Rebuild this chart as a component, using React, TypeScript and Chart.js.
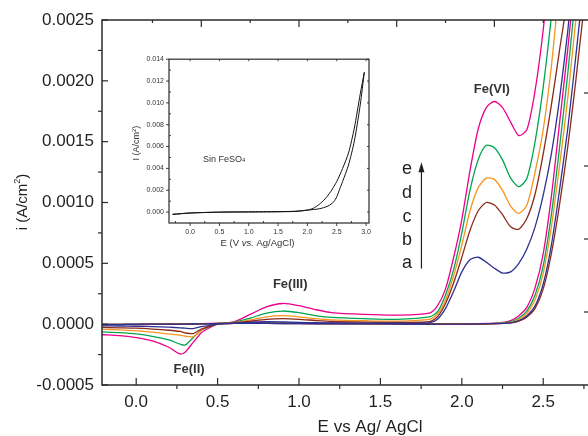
import React, { useEffect, useRef } from 'react';
import { Chart, registerables } from 'chart.js';
Chart.register(...registerables);

const FONT = "'Liberation Sans', Arial, Helvetica, sans-serif";
const INK = '#231f20';
const AXIS = '#2b2b2b';

// ---------- main chart axes ----------
const X_MIN = -0.21;
const X_MAX = 2.775;
const Y_MIN = -0.0005;
const Y_MAX = 0.0025;
const X_TICKS = [0, 0.5, 1, 1.5, 2, 2.5];
const X_MINOR = [0.25, 0.75, 1.25, 1.75, 2.25, 2.75];
const Y_TICKS = [-0.0005, 0, 0.0005, 0.001, 0.0015, 0.002, 0.0025];
const Y_MINOR = [-0.00025, 0.00025, 0.00075, 0.00125, 0.00175, 0.00225];
const TOP_MAJOR = [0.4, 1.0, 1.6, 2.2];
const TOP_MINOR = [0.1, 0.7, 1.3, 1.9, 2.5];
const RIGHT_MINOR = [0.0001, 0.0007, 0.0013, 0.0019];

// ---------- main chart data: forward scan ----------
const E_FWD = [-0.21, -0.1, 0.0, 0.1, 0.2, 0.3, 0.4, 0.5, 0.6, 0.7, 0.8, 0.9, 1.0, 1.1, 1.2, 1.4, 1.6, 1.8,
  1.85, 1.9, 1.95, 2.0, 2.05, 2.1, 2.15, 2.2, 2.25, 2.3, 2.35, 2.4, 2.45, 2.5, 2.55, 2.6, 2.65, 2.7];

const I_FWD_E = [-0.000005, -0.000004, -0.000003, -0.000002, 0.0, 0.000002, 0.000004, 0.000008, 0.000018, 0.00008,
  0.000142, 0.00017, 0.000152, 0.00012, 0.000095, 0.00008, 0.000074, 0.00009, 0.00015, 0.00029, 0.00055, 0.00086,
  0.00126, 0.0016, 0.00178, 0.00183, 0.00178, 0.00166, 0.00155, 0.0016, 0.00192, 0.00242, 0.0031, 0.0038, 0.0045, 0.0052];
const I_FWD_D = [-0.000004, -0.000003, -0.000002, -0.000001, 0.0, 0.000002, 0.000004, 0.000007, 0.000015, 0.00005,
  0.00009, 0.000108, 0.000095, 0.00007, 0.000055, 0.000045, 0.00004, 0.00006, 0.0001, 0.00024, 0.00045, 0.00075,
  0.0011, 0.00135, 0.00147, 0.00145, 0.00135, 0.0012, 0.00113, 0.0012, 0.0015, 0.00195, 0.00253, 0.0032, 0.0039, 0.0046];
const I_FWD_C = [-0.000003, -0.000002, -0.000002, -0.000001, 0.0, 0.000002, 0.000003, 0.000006, 0.000012, 0.000035,
  0.00006, 0.00007, 0.00006, 0.000045, 0.000035, 0.000028, 0.000025, 0.00004, 0.00008, 0.0002, 0.0004, 0.00065,
  0.00093, 0.00112, 0.0012, 0.00119, 0.0011, 0.00097, 0.00091, 0.00098, 0.00125, 0.0016, 0.00212, 0.0028, 0.0035, 0.0042];
const I_FWD_B = [-0.000002, -0.000002, -0.000001, 0.0, 0.0, 0.000001, 0.000003, 0.000005, 0.00001, 0.000025,
  0.00004, 0.000045, 0.00004, 0.00003, 0.000022, 0.000017, 0.000015, 0.00002, 0.00006, 0.00017, 0.00034, 0.00055,
  0.00077, 0.00093, 0.001, 0.00098, 0.0009, 0.0008, 0.00078, 0.00087, 0.00107, 0.0014, 0.0018, 0.00225, 0.0027, 0.0033];
const I_FWD_A = [-0.000001, -0.000001, 0.0, 0.0, 0.0, 0.000001, 0.000002, 0.000004, 0.000008, 0.000015,
  0.00002, 0.000018, 0.000015, 0.000012, 0.00001, 0.000008, 0.000008, 0.00001, 0.00004, 0.00013, 0.00027, 0.00043,
  0.00053, 0.00055, 0.00051, 0.00046, 0.00042, 0.00043, 0.0005, 0.00062, 0.0008, 0.00106, 0.0014, 0.00185, 0.0024, 0.003];

// ---------- main chart data: reverse scan ----------
const E_REV = [2.8, 2.75, 2.7, 2.65, 2.6, 2.55, 2.5, 2.45, 2.4, 2.35, 2.3, 2.2, 2.0, 1.8, 1.5, 1.2, 1.0, 0.8, 0.7,
  0.6, 0.5, 0.45, 0.4, 0.35, 0.3, 0.27, 0.2, 0.1, 0.0, -0.1, -0.21];

const I_REV_E = [0.0036, 0.0033, 0.0029, 0.00225, 0.00165, 0.00105, 0.00058, 0.0003, 0.00014, 0.00007, 0.00003,
  0.000008, 0.000003, 0.000003, 0.000005, 0.000008, 0.00001, 0.000015, 0.000018, 0.000015, 0.0, -0.00003, -0.00007,
  -0.00015, -0.00023, -0.000245, -0.00019, -0.000138, -0.00011, -0.000095, -0.000085];
const I_REV_D = [0.0034, 0.0031, 0.0027, 0.00205, 0.00145, 0.0009, 0.00048, 0.00024, 0.00011, 0.00005, 0.00002,
  0.000006, 0.000002, 0.000002, 0.000004, 0.000006, 0.000008, 0.000012, 0.000015, 0.000012, 0.000002, -0.00002, -0.00005,
  -0.00011, -0.000172, -0.000165, -0.00013, -0.0001, -0.00008, -0.00007, -0.000063];
const I_REV_C = [0.0033, 0.0031, 0.0025, 0.00185, 0.0013, 0.0008, 0.00042, 0.0002, 0.00009, 0.00004, 0.000015,
  0.000005, 0.000002, 0.000002, 0.000003, 0.000005, 0.000007, 0.00001, 0.000012, 0.00001, 0.000003, -0.00001, -0.00005,
  -0.000102, -0.000098, -0.00009, -0.00008, -0.000065, -0.000055, -0.000047, -0.000041];
const I_REV_B = [0.0031, 0.0026, 0.002, 0.00145, 0.00098, 0.00058, 0.00029, 0.00013, 0.00006, 0.000025, 0.00001,
  0.000003, 0.000001, 0.000001, 0.000002, 0.000003, 0.000004, 0.000006, 0.000008, 0.000006, 0.000001, -0.00002, -0.00004,
  -0.000077, -0.000072, -0.00006, -0.00005, -0.00004, -0.000033, -0.00003, -0.000027];
const I_REV_A = [0.0032, 0.0028, 0.0022, 0.0016, 0.0011, 0.00065, 0.00033, 0.00015, 0.00007, 0.00003, 0.00001,
  0.000004, 0.000001, 0.000001, 0.000002, 0.000003, 0.000004, 0.000006, 0.000007, 0.000006, 0.000001, -0.00001, -0.00002,
  -0.000036, -0.000033, -0.00003, -0.000025, -0.00002, -0.000017, -0.000015, -0.000014];

const SERIES_NAMES = ['a', 'b', 'c', 'd', 'e'];
const SERIES_COLORS = ['#2e3192', '#8b2a1c', '#f7941d', '#00a651', '#ec008c'];
const SERIES_FWD = [I_FWD_A, I_FWD_B, I_FWD_C, I_FWD_D, I_FWD_E];
const SERIES_REV = [I_REV_A, I_REV_B, I_REV_C, I_REV_D, I_REV_E];

// legend letters (label, E, i baseline)
const LEGEND_E = 1.664;
const LEGEND_I = [0.000459, 0.000648, 0.000836, 0.001041, 0.001238];
const ARROW_E = 1.752;
const ARROW_I_FROM = 0.000457;
const ARROW_I_TO = 0.00133;

// peak annotations
const PEAK_LABELS = ['Fe(VI)', 'Fe(III)', 'Fe(II)'];
const PEAK_E = [2.184, 0.946, 0.325];
const PEAK_I = [0.001926, 0.000328, -0.000369];

// ---------- inset ----------
const IN_X_MIN = -0.36;
const IN_X_MAX = 3.05;
const IN_Y_MIN = -0.001;
const IN_Y_MAX = 0.014;
const IN_X_TICKS = [0, 0.5, 1, 1.5, 2, 2.5, 3];
const IN_X_MINOR = [-0.25, 0.25, 0.75, 1.25, 1.75, 2.25, 2.75];
const IN_Y_TICKS = [0, 0.002, 0.004, 0.006, 0.008, 0.01, 0.012, 0.014];
const IN_Y_MINOR = [0.001, 0.003, 0.005, 0.007, 0.009, 0.011, 0.013];
const IN_E_FWD = [-0.3, 0.0, 0.5, 1.0, 1.5, 1.8, 2.0, 2.2, 2.35, 2.45, 2.5, 2.55, 2.6, 2.7, 2.8, 2.9, 2.97];
const IN_I_FWD = [-0.0002, -0.00008, 0.0, 0.00002, 0.00004, 0.00008, 0.00018, 0.0003, 0.00055, 0.00095, 0.0014,
  0.0021, 0.0028, 0.0043, 0.0065, 0.0098, 0.0128];
const IN_E_REV = [2.97, 2.9, 2.8, 2.7, 2.6, 2.5, 2.4, 2.3, 2.2, 2.1, 2.0, 1.8, 1.5, 1.0, 0.5, 0.0, -0.3];
const IN_I_REV = [0.0128, 0.0108, 0.0077, 0.0054, 0.004, 0.0028, 0.0019, 0.0012, 0.0007, 0.00035, 0.00018,
  0.00006, 0.00003, 0.00001, -0.00001, -0.00009, -0.00022];
const IN_NOTE_E = 0.22;
const IN_NOTE_I = 0.00485;

function seg(ctx: CanvasRenderingContext2D, x1: number, y1: number, x2: number, y2: number) {
  ctx.beginPath();
  ctx.moveTo(x1, y1);
  ctx.lineTo(x2, y2);
  ctx.stroke();
}

function drawScriptText(ctx: CanvasRenderingContext2D, x: number, y: number, pre: string, small: string,
  post: string, size: number, shift: number, align: 'center' | 'left') {
  const big = `${size}px ${FONT}`;
  const sm = `${Math.round(size * 0.62)}px ${FONT}`;
  ctx.font = big;
  const w1 = ctx.measureText(pre).width;
  const w3 = ctx.measureText(post).width;
  ctx.font = sm;
  const w2 = ctx.measureText(small).width;
  const total = w1 + w2 + w3;
  const sx = align === 'center' ? x - total / 2 : x;
  ctx.textAlign = 'left';
  ctx.font = big;
  ctx.fillText(pre, sx, y);
  ctx.font = sm;
  ctx.fillText(small, sx + w1, y + shift);
  ctx.font = big;
  ctx.fillText(post, sx + w1 + w2, y);
}

const mainDecor = {
  id: 'mainDecor',
  afterDraw(chart: any) {
    const { ctx, chartArea, scales } = chart;
    const { left, right, top, bottom } = chartArea;
    const X = (v: number) => scales.x.getPixelForValue(v);
    const Y = (v: number) => scales.y.getPixelForValue(v);
    ctx.save();
    ctx.strokeStyle = AXIS;
    ctx.lineWidth = 1.5;
    ctx.beginPath();
    ctx.moveTo(right, top);
    ctx.lineTo(left, top);
    ctx.lineTo(left, bottom);
    ctx.lineTo(right, bottom);
    ctx.stroke();
    ctx.lineWidth = 1.2;
    X_TICKS.forEach(v => seg(ctx, X(v), bottom, X(v), bottom - 7));
    X_MINOR.forEach(v => seg(ctx, X(v), bottom, X(v), bottom + 4));
    Y_TICKS.forEach(v => seg(ctx, left, Y(v), left + 6, Y(v)));
    Y_MINOR.forEach(v => seg(ctx, left, Y(v), left - 4, Y(v)));
    TOP_MAJOR.forEach(v => seg(ctx, X(v), top, X(v), top + 7));
    TOP_MINOR.forEach(v => seg(ctx, X(v), top, X(v), top + 3));
    RIGHT_MINOR.forEach(v => seg(ctx, right - 4, Y(v), right, Y(v)));

    // axis titles
    ctx.fillStyle = INK;
    ctx.font = `17px ${FONT}`;
    ctx.textAlign = 'center';
    ctx.textBaseline = 'alphabetic';
    ctx.fillText('E vs Ag/ AgCl', 370, 432);

    ctx.save();
    ctx.translate(23, (top + bottom) / 2 - 0.5);
    ctx.rotate(-Math.PI / 2);
    ctx.textBaseline = 'middle';
    drawScriptText(ctx, 0, 0, 'i (A/cm', '2', ')', 15, -5, 'center');
    ctx.restore();

    // peak labels
    ctx.fillStyle = '#333';
    ctx.font = `bold 13px ${FONT}`;
    ctx.textAlign = 'center';
    ctx.textBaseline = 'middle';
    PEAK_LABELS.forEach((t, i) => ctx.fillText(t, X(PEAK_E[i]), Y(PEAK_I[i])));

    // legend letters + arrow
    ctx.fillStyle = INK;
    ctx.font = `18px ${FONT}`;
    ctx.textBaseline = 'alphabetic';
    SERIES_NAMES.forEach((n, i) => ctx.fillText(n, X(LEGEND_E), Y(LEGEND_I[i])));
    const ax = X(ARROW_E);
    const ay0 = Y(ARROW_I_FROM);
    const ay1 = Y(ARROW_I_TO);
    ctx.strokeStyle = INK;
    ctx.lineWidth = 1.2;
    seg(ctx, ax, ay0, ax, ay1 + 6);
    ctx.beginPath();
    ctx.moveTo(ax, ay1);
    ctx.lineTo(ax - 3, ay1 + 10);
    ctx.lineTo(ax + 3, ay1 + 10);
    ctx.closePath();
    ctx.fill();
    ctx.restore();
  },
};

const insetDecor = {
  id: 'insetDecor',
  afterDraw(chart: any) {
    const { ctx, chartArea, scales } = chart;
    const { left, right, top, bottom } = chartArea;
    const X = (v: number) => scales.x.getPixelForValue(v);
    const Y = (v: number) => scales.y.getPixelForValue(v);
    ctx.save();
    ctx.strokeStyle = AXIS;
    ctx.lineWidth = 1.2;
    ctx.strokeRect(left, top, right - left, bottom - top);
    ctx.lineWidth = 0.9;
    IN_X_TICKS.forEach(v => { seg(ctx, X(v), bottom, X(v), bottom + 3); seg(ctx, X(v), top, X(v), top + 2); });
    IN_X_MINOR.forEach(v => seg(ctx, X(v), bottom, X(v), bottom - 2));
    IN_Y_TICKS.forEach(v => { seg(ctx, left, Y(v), left - 3, Y(v)); seg(ctx, right, Y(v), right - 2, Y(v)); });
    IN_Y_MINOR.forEach(v => seg(ctx, left, Y(v), left + 2, Y(v)));

    ctx.fillStyle = '#333';
    ctx.textBaseline = 'middle';
    // x title with italic "vs."
    const size = 9.5;
    ctx.font = `${size}px ${FONT}`;
    const p1 = 'E (V ';
    const p3 = ' Ag/AgCl)';
    const w1 = ctx.measureText(p1).width;
    const w3 = ctx.measureText(p3).width;
    ctx.font = `italic ${size}px ${FONT}`;
    const w2 = ctx.measureText('vs.').width;
    const sx = 129.5 - (w1 + w2 + w3) / 2;
    ctx.textAlign = 'left';
    ctx.font = `${size}px ${FONT}`;
    ctx.fillText(p1, sx, 193);
    ctx.font = `italic ${size}px ${FONT}`;
    ctx.fillText('vs.', sx + w1, 193);
    ctx.font = `${size}px ${FONT}`;
    ctx.fillText(p3, sx + w1 + w2, 193);

    ctx.save();
    ctx.translate(9, (top + bottom) / 2 + 2);
    ctx.rotate(-Math.PI / 2);
    drawScriptText(ctx, 0, 0, 'I (A/cm', '2', ')', 9, -3, 'center');
    ctx.restore();

    drawScriptText(ctx, X(IN_NOTE_E), Y(IN_NOTE_I), 'Sin FeSO', '4', '', 9, 1, 'left');
    ctx.restore();
  },
};

export default function App() {
  const mainRef = useRef<HTMLCanvasElement>(null);
  const insetRef = useRef<HTMLCanvasElement>(null);

  useEffect(() => {
    const datasets = SERIES_NAMES.map((name, k) => ({
      label: name,
      data: E_FWD.map((x, i) => ({ x, y: SERIES_FWD[k][i] }))
        .concat(E_REV.map((x, i) => ({ x, y: SERIES_REV[k][i] }))),
      borderColor: SERIES_COLORS[k],
      backgroundColor: SERIES_COLORS[k],
      borderWidth: 1.3,
      showLine: true,
      pointRadius: 0,
      tension: 0.25,
      fill: false,
    }));

    const main = new Chart(mainRef.current as HTMLCanvasElement, {
      type: 'scatter',
      data: { datasets },
      options: {
        responsive: false,
        animation: false,
        events: [],
        layout: { padding: { top: 20, right: 0, left: 0, bottom: 0 } },
        plugins: { legend: { display: false }, tooltip: { enabled: false } },
        scales: {
          x: {
            type: 'linear',
            min: X_MIN,
            max: X_MAX,
            grid: { display: false, drawTicks: false },
            border: { display: false },
            ticks: {
              color: INK,
              font: { family: FONT, size: 17 },
              padding: 7,
              maxRotation: 0,
              autoSkip: false,
              callback: (v: any) => Number(v).toFixed(1),
            },
            afterBuildTicks: (s: any) => { s.ticks = X_TICKS.map(value => ({ value })); },
            afterFit: (s: any) => { s.height = 51; },
          },
          y: {
            type: 'linear',
            min: Y_MIN,
            max: Y_MAX,
            grid: { display: false, drawTicks: false },
            border: { display: false },
            ticks: {
              color: INK,
              font: { family: FONT, size: 17 },
              padding: 8,
              autoSkip: false,
              callback: (v: any) => Number(v).toFixed(4),
            },
            afterBuildTicks: (s: any) => { s.ticks = Y_TICKS.map(value => ({ value })); },
            afterFit: (s: any) => { s.width = 102; },
          },
        },
      } as any,
      plugins: [mainDecor],
    });

    const inset = new Chart(insetRef.current as HTMLCanvasElement, {
      type: 'scatter',
      data: {
        datasets: [{
          label: 'Sin FeSO4',
          data: IN_E_FWD.map((x, i) => ({ x, y: IN_I_FWD[i] }))
            .concat(IN_E_REV.map((x, i) => ({ x, y: IN_I_REV[i] }))),
          borderColor: '#111',
          borderWidth: 1,
          showLine: true,
          pointRadius: 0,
          tension: 0.25,
          fill: false,
        }],
      },
      options: {
        responsive: false,
        animation: false,
        events: [],
        layout: { padding: { top: 9, right: 9, left: 0, bottom: 0 } },
        plugins: { legend: { display: false }, tooltip: { enabled: false } },
        scales: {
          x: {
            type: 'linear',
            min: IN_X_MIN,
            max: IN_X_MAX,
            grid: { display: false, drawTicks: false },
            border: { display: false },
            ticks: {
              color: '#333',
              font: { family: FONT, size: 7 },
              padding: 5,
              maxRotation: 0,
              autoSkip: false,
              callback: (v: any) => Number(v).toFixed(1),
            },
            afterBuildTicks: (s: any) => { s.ticks = IN_X_TICKS.map(value => ({ value })); },
            afterFit: (s: any) => { s.height = 27; },
          },
          y: {
            type: 'linear',
            min: IN_Y_MIN,
            max: IN_Y_MAX,
            grid: { display: false, drawTicks: false },
            border: { display: false },
            ticks: {
              color: '#333',
              font: { family: FONT, size: 7 },
              padding: 5,
              autoSkip: false,
              callback: (v: any) => Number(v).toFixed(3),
            },
            afterBuildTicks: (s: any) => { s.ticks = IN_Y_TICKS.map(value => ({ value })); },
            afterFit: (s: any) => { s.width = 41; },
          },
        },
      } as any,
      plugins: [insetDecor],
    });

    return () => {
      main.destroy();
      inset.destroy();
    };
  }, []);

  return (
    <div style={{ position: 'fixed', left: 0, top: 0, width: 588, height: 436, background: '#fff', overflow: 'hidden' }}>
      <canvas ref={mainRef} width={588} height={436} style={{ position: 'absolute', left: 0, top: 0 }} />
      <canvas ref={insetRef} width={250} height={200} style={{ position: 'absolute', left: 128, top: 50 }} />
    </div>
  );
}
